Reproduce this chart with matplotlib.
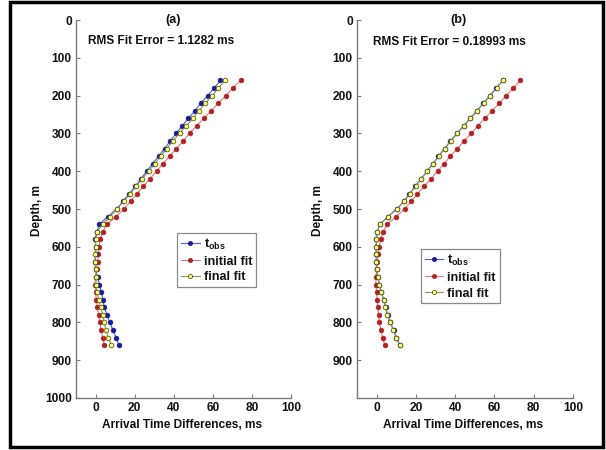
import matplotlib
matplotlib.use("Agg")
import matplotlib.pyplot as plt
from matplotlib.patches import Rectangle

plt.rcParams['font.family'] = ['Liberation Sans', 'DejaVu Sans']
plt.rcParams['font.weight'] = 'bold'
plt.rcParams['mathtext.fontset'] = 'custom'
plt.rcParams['mathtext.bf'] = 'Liberation Sans:bold'
plt.rcParams['mathtext.rm'] = 'Liberation Sans:bold'

depth = [160, 180, 200, 220, 240, 260, 280, 300, 320, 340, 360, 380, 400, 420,
         440, 460, 480, 500, 520, 540, 560, 580, 600, 620, 640, 660, 680, 700,
         720, 740, 760, 780, 800, 820, 840, 860]

tobs_a = [63.9, 60.6, 57.4, 53.8, 50.9, 47.5, 44.4, 41.2, 38.3, 35.3, 32.3, 29.2,
          26.2, 23.3, 20.3, 17.2, 14.0, 10.8, 6.3, 2.0, 0.6, -0.2, 0.0, 0.0,
          -0.2, 0.0, 1.0, 2.0, 3.0, 3.7, 4.5, 5.9, 7.3, 8.9, 10.5, 12.0]
init_a = [74.2, 70.2, 66.7, 62.7, 59.2, 55.4, 51.7, 48.1, 44.8, 41.4, 37.9, 34.5,
          31.2, 27.8, 24.5, 21.1, 17.9, 14.6, 10.5, 6.1, 3.6, 2.4, 1.8, 1.4,
          1.0, 0.6, 0.2, -0.4, 0.0, 0.4, 0.8, 1.6, 2.2, 2.8, 3.6, 4.5]
final_a = [66.3, 62.9, 59.8, 56.2, 52.9, 49.9, 46.4, 43.0, 39.6, 36.5, 33.5, 30.4,
           27.2, 23.9, 20.7, 17.8, 14.4, 11.0, 7.3, 3.7, 0.8, 0.0, 0.0, -0.2,
           -0.2, 0.0, 0.4, 0.2, 0.8, 1.6, 2.6, 3.6, 4.3, 5.3, 6.5, 8.1]

tobs_b = [64.2, 60.9, 57.6, 54.3, 51.0, 47.6, 44.3, 40.9, 37.6, 34.6, 31.5, 28.7,
          25.7, 22.6, 19.6, 16.7, 13.8, 10.2, 5.8, 1.7, 0.2, -0.2, -0.2, -0.2,
          -0.2, 0.0, 0.6, 1.4, 2.4, 3.6, 4.6, 5.6, 7.0, 8.6, 10.0, 11.8]
init_b = [73.1, 69.6, 66.0, 62.5, 58.9, 55.1, 51.6, 48.2, 44.5, 41.1, 37.5, 34.4,
          31.0, 27.7, 24.1, 20.8, 17.6, 14.2, 9.9, 5.5, 3.2, 2.2, 1.2, 0.8,
          0.4, 0.0, -0.4, -0.4, 0.0, 0.2, 0.6, 1.0, 1.4, 2.2, 3.0, 4.2]
final_b = [64.4, 61.1, 57.9, 54.5, 51.2, 47.8, 44.5, 41.1, 37.7, 34.8, 31.6, 28.9,
           25.9, 22.7, 19.8, 16.8, 14.0, 10.3, 5.9, 1.8, 0.2, -0.2, -0.2, -0.2,
           -0.2, 0.0, 0.6, 1.4, 2.4, 3.6, 4.5, 5.5, 6.9, 8.5, 9.9, 11.7]

panel_titles = ['(a)', '(b)']
rms_texts = ['RMS Fit Error = 1.1282 ms', 'RMS Fit Error = 0.18993 ms']
series_labels = [r'$\mathbf{t_{obs}}$', 'initial fit', 'final fit']
xticks = [0, 20, 40, 60, 80, 100]
yticks_a = [0, 100, 200, 300, 400, 500, 600, 700, 800, 900, 1000]
yticks_b = [0, 100, 200, 300, 400, 500, 600, 700, 800, 900]

W, H = 606, 450
fig = plt.figure(figsize=(W / 100, H / 100), dpi=100)
fig.patch.set_facecolor('white')

def fx(px):
    return px / W

def fy(py):
    return 1 - py / H

axes_px = [(76, 291), (357, 573)]
top_px, bot_px = 20, 398
fs = 8.6
ms = 3.4

data = [(tobs_a, init_a, final_a, yticks_a), (tobs_b, init_b, final_b, yticks_b)]
title_x = [0.453, 0.469]
rms_pos = [(0.056, 0.944), (0.075, 0.941)]
leg_anchor = [(0.47, 0.4365), (0.295, 0.394)]

for i, (l, r) in enumerate(axes_px):
    ax = fig.add_axes([fx(l), fy(bot_px), (r - l) / W, (bot_px - top_px) / H])
    tobs, init, final, yt = data[i]
    ax.plot(tobs, depth, '-', color='#4a63c8', lw=0.8, marker='o', ms=ms,
            mfc='#1a1a9c', mec='#1a1a9c', mew=0.5, label=series_labels[0], zorder=3)
    ax.plot(init, depth, '-', color='#e07a7a', lw=0.8, marker='o', ms=ms,
            mfc='#b22222', mec='#b22222', mew=0.5, label=series_labels[1], zorder=2)
    ax.plot(final, depth, '-', color='#8a9a55', lw=0.8, marker='o', ms=ms,
            mfc='#ffff60', mec='#404020', mew=0.5, label=series_labels[2], zorder=4)
    ax.set_xlim(-10, 100)
    ax.set_ylim(1000, 0)
    ax.set_xticks(xticks)
    ax.set_yticks(yt)
    for s in ['top', 'right']:
        ax.spines[s].set_visible(False)
    for s in ['left', 'bottom']:
        ax.spines[s].set_color('#7a7a7a')
        ax.spines[s].set_linewidth(1.0)
    ax.tick_params(direction='in', length=3, width=0.8, color='#7a7a7a',
                   labelsize=fs, pad=3, labelcolor='#111111')
    for lab in ax.get_xticklabels() + ax.get_yticklabels():
        lab.set_fontweight('bold')
    ax.set_xlabel('Arrival Time Differences, ms', fontsize=fs, fontweight='bold',
                  color='#111111')
    ax.xaxis.set_label_coords(0.493, -0.056)
    ax.set_ylabel('Depth, m', fontsize=fs, fontweight='bold', color='#111111')
    ax.yaxis.set_label_coords(-0.152, 0.497)
    ax.text(title_x[i], 1.0, panel_titles[i], transform=ax.transAxes,
            ha='center', va='center', fontsize=fs + 0.5, fontweight='bold',
            color='#111111')
    ax.text(rms_pos[i][0], rms_pos[i][1], rms_texts[i], transform=ax.transAxes,
            ha='left', va='center', fontsize=fs, fontweight='bold', color='#111111')
    leg = ax.legend(loc='upper left', bbox_to_anchor=leg_anchor[i],
                    borderaxespad=0, fontsize=fs + 0.5, handlelength=1.5,
                    handletextpad=0.3, labelspacing=0.3, borderpad=0.3,
                    fancybox=False, framealpha=1, edgecolor='#8a8a8a',
                    markerscale=0.9)
    leg.get_frame().set_linewidth(0.9)
    for t in leg.get_texts():
        t.set_fontweight('bold')
        t.set_color('#111111')

fig.patches.append(Rectangle((fx(10), fy(447)), fx(593), (445) / H,
                             transform=fig.transFigure, fill=False,
                             edgecolor='black', linewidth=2.5))

fig.savefig('out.png', dpi=100, facecolor='white')
